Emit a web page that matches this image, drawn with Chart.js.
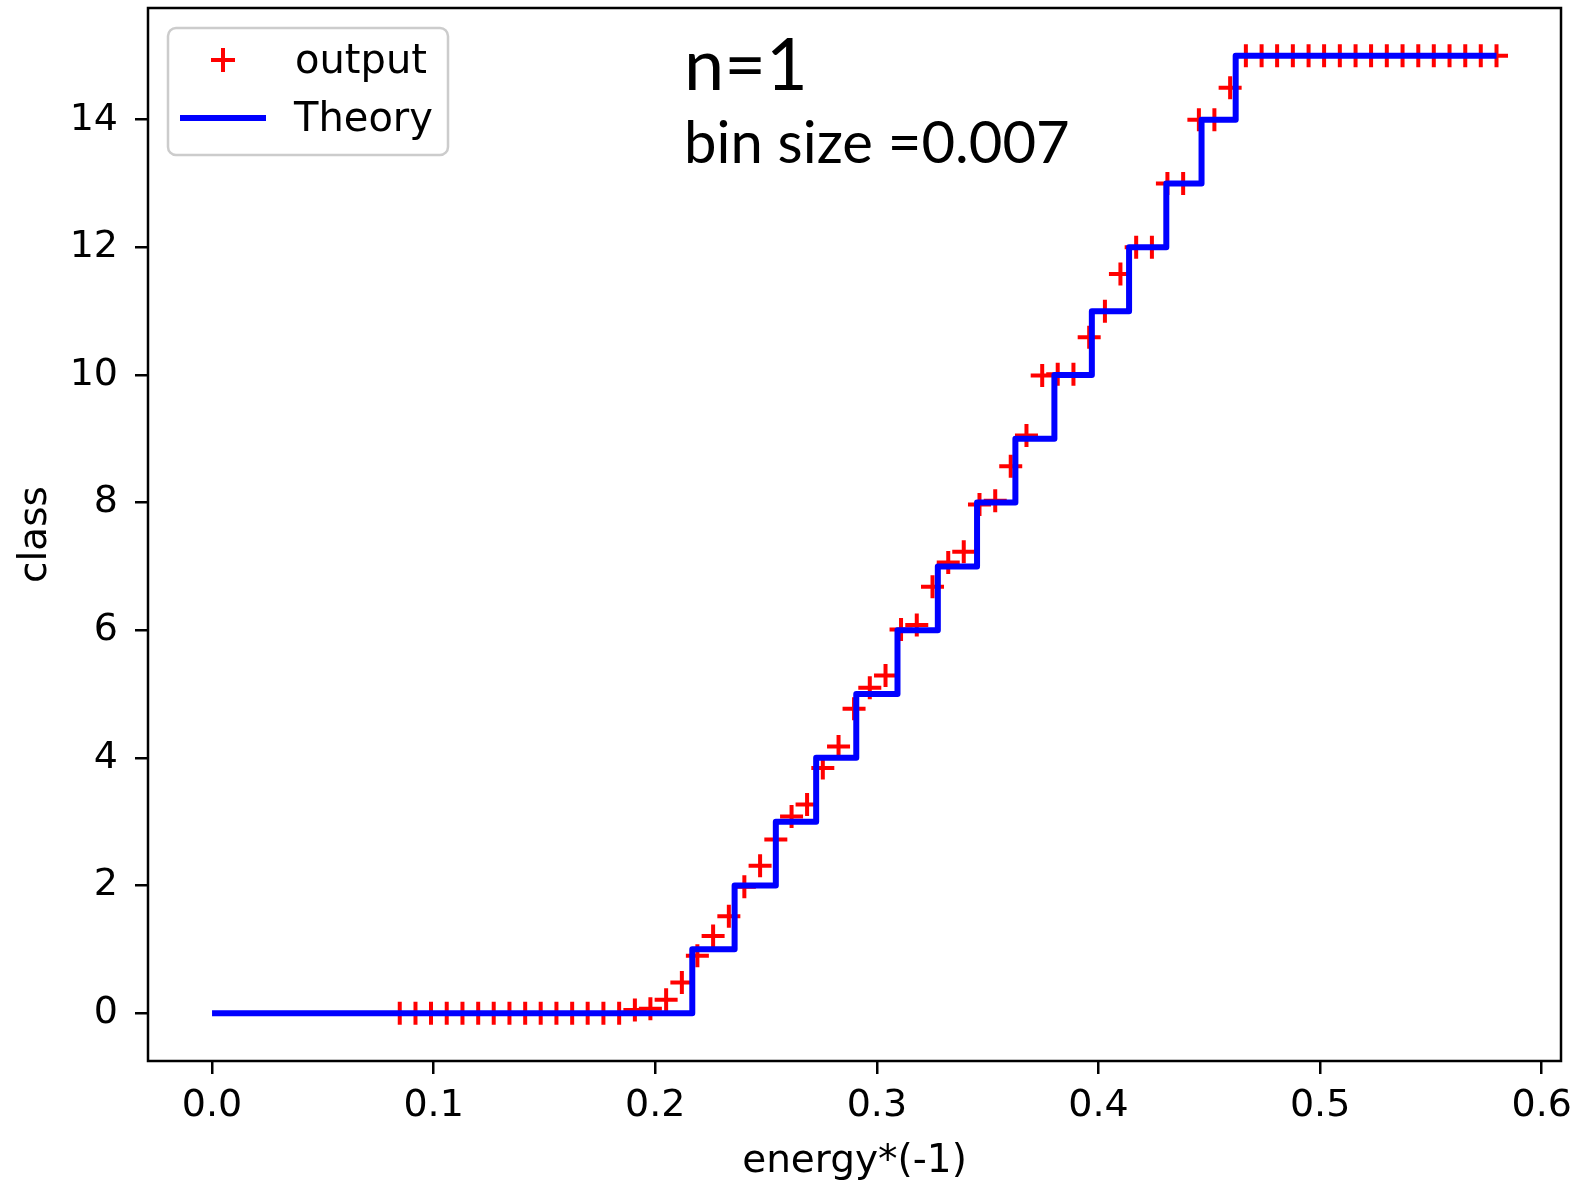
<!DOCTYPE html>
<html>
<head>
<meta charset="utf-8">
<title>n=1 bin size 0.007</title>
<script src="https://cdn.jsdelivr.net/npm/chart.js@4.4.0/dist/chart.umd.min.js"></script>
<style>
  html, body { margin: 0; padding: 0; background: #fff; }
  #wrap { position: relative; width: 1578px; height: 1185px; }
</style>
</head>
<body>
<div id="wrap"><canvas id="grafico"></canvas></div>
<script>
// valores (energy*(-1) vs class)
const outputX = [
  0.0847, 0.0918, 0.0988, 0.1059, 0.1130, 0.1201, 0.1271, 0.1342, 0.1413, 0.1483,
  0.1554, 0.1625, 0.1695, 0.1766, 0.1837, 0.1908, 0.1978, 0.2049, 0.2120, 0.2190,
  0.2261, 0.2332, 0.2402, 0.2473, 0.2544, 0.2615, 0.2685, 0.2756, 0.2827, 0.2897,
  0.2968, 0.3039, 0.3109, 0.3180, 0.3251, 0.3322, 0.3392, 0.3463, 0.3534, 0.3604,
  0.3675, 0.3746, 0.3816, 0.3887, 0.3958, 0.4029, 0.4099, 0.4170, 0.4241, 0.4311,
  0.4382, 0.4453, 0.4523, 0.4594, 0.4665, 0.4736, 0.4806, 0.4877, 0.4948, 0.5018,
  0.5089, 0.5160, 0.5230, 0.5301, 0.5372, 0.5443, 0.5513, 0.5584, 0.5655, 0.5725,
  0.5796
];
const outputY = [
  0, 0, 0, 0, 0, 0, 0, 0, 0, 0,
  0, 0, 0, 0, 0, 0.05, 0.07, 0.21, 0.48, 0.90,
  1.21, 1.52, 1.98, 2.31, 2.72, 3.08, 3.27, 3.84, 4.18, 4.77,
  5.10, 5.29, 6.01, 6.08, 6.68, 7.06, 7.23, 7.97, 8.03, 8.57,
  9.05, 9.99, 10.01, 10.01, 10.59, 11.0, 11.58, 12.0, 12.0, 13.0,
  13.0, 14.0, 14.0, 14.5, 15, 15, 15, 15, 15, 15,
  15, 15, 15, 15, 15, 15, 15, 15, 15, 15,
  15
];
const theoryX = [0, 0.2167, 0.2358, 0.2544, 0.2726, 0.2907, 0.3093, 0.3275, 0.3452,
  0.3625, 0.3801, 0.3970, 0.4138, 0.4306, 0.4465, 0.4619, 0.5796];
const theoryY = [0, 1, 2, 3, 4, 5, 6, 7, 8, 9, 10, 11, 12, 13, 14, 15, 15];
const xTicks = [0, 0.1, 0.2, 0.3, 0.4, 0.5, 0.6];
const yTicks = [0, 2, 4, 6, 8, 10, 12, 14];
const notas = ['n=1', 'bin size =0.007'];

const FUENTE = 'DejaVu Sans';

// marco completo alrededor del area de datos
const marco = {
  id: 'marco',
  afterDatasetsDraw(chart) {
    const { ctx, chartArea: a } = chart;
    ctx.save();
    ctx.strokeStyle = '#000';
    ctx.lineWidth = 2.5;
    ctx.strokeRect(a.left, a.top, a.right - a.left, a.bottom - a.top);
    ctx.restore();
  }
};

// leyenda dentro del grafico + textos anotados
const leyendaInterior = {
  id: 'leyendaInterior',
  afterDraw(chart) {
    const { ctx } = chart;
    const [dsOut, dsTeo] = chart.data.datasets;
    ctx.save();
    // caja
    ctx.beginPath();
    ctx.roundRect(168, 28, 280, 127, 8);
    ctx.fillStyle = 'rgba(255,255,255,0.8)';
    ctx.fill();
    ctx.strokeStyle = '#cccccc';
    ctx.lineWidth = 2.5;
    ctx.stroke();
    // marcador output
    ctx.strokeStyle = dsOut.pointBorderColor;
    ctx.lineWidth = dsOut.pointBorderWidth;
    ctx.beginPath();
    ctx.moveTo(223 - 12, 60); ctx.lineTo(223 + 12, 60);
    ctx.moveTo(223, 60 - 12); ctx.lineTo(223, 60 + 12);
    ctx.stroke();
    // linea Theory
    ctx.strokeStyle = dsTeo.borderColor;
    ctx.lineWidth = dsTeo.borderWidth;
    ctx.beginPath();
    ctx.moveTo(180, 118); ctx.lineTo(266, 118);
    ctx.stroke();
    ctx.fillStyle = '#000';
    ctx.font = '40px "' + FUENTE + '"';
    ctx.textBaseline = 'alphabetic';
    ctx.fillText(dsOut.label, 295, 73);
    ctx.fillText(dsTeo.label, 294, 131);
    // anotaciones
    ctx.font = '72px Lato';
    ctx.fillText(notas[0], 684, 90);
    ctx.font = '58px Lato';
    ctx.fillText(notas[1], 684, 163);
    ctx.restore();
  }
};

const ctx = document.getElementById('grafico').getContext('2d');
new Chart(ctx, {
  type: 'scatter',
  data: {
    datasets: [
      {
        label: 'output',
        data: outputX.map((x, i) => ({ x: x, y: outputY[i] })),
        showLine: false,
        pointStyle: 'cross',
        pointRadius: 11.5,
        pointHoverRadius: 11.5,
        pointBorderWidth: 4,
        pointBorderColor: '#ff0000',
        borderColor: '#ff0000',
        order: 2
      },
      {
        label: 'Theory',
        data: theoryX.map((x, i) => ({ x: x, y: theoryY[i] })),
        showLine: true,
        stepped: true,
        borderColor: '#0000ff',
        borderWidth: 6,
        borderJoinStyle: 'round',
        pointRadius: 0,
        fill: false,
        order: 1
      }
    ]
  },
  options: {
    responsive: true,
    maintainAspectRatio: false,
    animation: false,
    events: [],
    layout: { autoPadding: false, padding: { top: 8, right: 17, left: 0, bottom: 0 } },
    plugins: {
      legend: { display: false },
      tooltip: { enabled: false }
    },
    scales: {
      x: {
        type: 'linear',
        min: -0.0289,
        max: 0.6087,
        afterFit: s => { s.height = 124; s.paddingLeft = 0; s.paddingRight = 0; s.paddingTop = 0; s.paddingBottom = 0; },
        afterBuildTicks: s => { s.ticks = xTicks.map(v => ({ value: v })); },
        grid: { drawOnChartArea: false, drawTicks: true, tickLength: 13, tickColor: '#000', lineWidth: 2.5 },
        border: { display: false },
        ticks: {
          font: { family: FUENTE, size: 38 },
          color: '#000',
          padding: 9,
          maxRotation: 0,
          autoSkip: false,
          callback: v => v.toFixed(1)
        },
        title: {
          display: true,
          text: 'energy*(-1)',
          font: { family: FUENTE, size: 39 },
          color: '#000',
          padding: { top: 0, bottom: 0 }
        }
      },
      y: {
        type: 'linear',
        min: -0.75,
        max: 15.75,
        afterFit: s => { s.width = 148; s.paddingLeft = 0; s.paddingRight = 0; s.paddingTop = 0; s.paddingBottom = 0; },
        afterBuildTicks: s => { s.ticks = yTicks.map(v => ({ value: v })); },
        grid: { drawOnChartArea: false, drawTicks: true, tickLength: 13, tickColor: '#000', lineWidth: 2.5 },
        border: { display: false },
        ticks: {
          font: { family: FUENTE, size: 38 },
          color: '#000',
          padding: 17,
          autoSkip: false
        },
        title: {
          display: true,
          text: 'class',
          font: { family: FUENTE, size: 39 },
          color: '#000',
          padding: { top: 12, bottom: 0 }
        }
      }
    }
  },
  plugins: [marco, leyendaInterior]
});
</script>
</body>
</html>
